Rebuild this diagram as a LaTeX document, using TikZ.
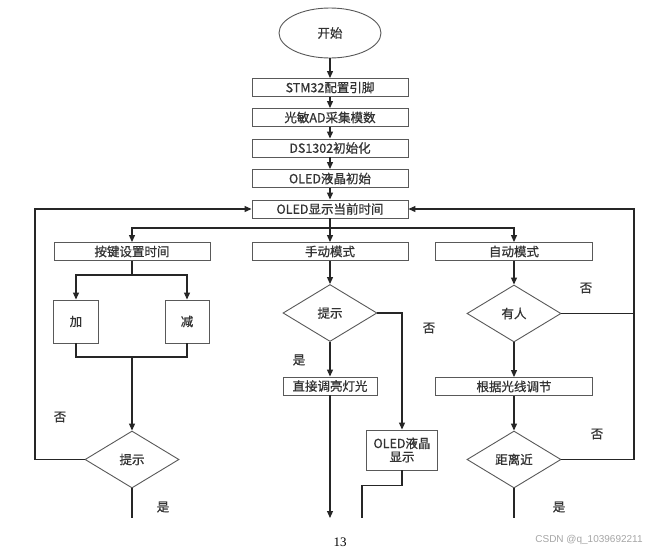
\documentclass[tikz,border=0pt]{standalone}
\usepackage{fontspec}
\newfontfamily\cjk[FakeBold=0.8]{Noto Sans CJK SC}
\newfontfamily\serifnum{Liberation Serif}
\newfontfamily\wmfont{Liberation Sans}
\usetikzlibrary{shapes.geometric,arrows.meta,calc}
\begin{document}
\begin{tikzpicture}[x=1pt,y=-1pt,
  line/.style={draw=black!85, line width=1.1pt},
  arr/.style={line, -{Triangle[length=7pt,width=6pt]}},
  txt/.style={font=\cjk\fontsize{12.5}{13.5}\selectfont, text=black!80},
  box/.style={txt, draw=black!65, line width=0.9pt, minimum height=18pt, inner sep=0pt, rectangle},
  dia/.style={txt, diamond, draw=black!65, line width=0.9pt, minimum width=94pt, minimum height=57pt, inner sep=0pt},
  lab/.style={txt}]
\useasboundingbox[fill=white] (0,0) rectangle (670,552);
% main column
\node[txt, ellipse, draw=black!65, line width=0.9pt, minimum width=102pt, minimum height=50pt, inner sep=0pt] (start) at (330,33) {开始};
\node[box, minimum width=156pt] (b1) at (330,87.5) {STM32配置引脚};
\node[box, minimum width=156pt] (b2) at (330,117.5) {光敏AD采集模数};
\node[box, minimum width=156pt] (b3) at (330,148) {DS1302初始化};
\node[box, minimum width=156pt] (b4) at (330,178.5) {OLED液晶初始};
\node[box, minimum width=156pt] (b5) at (330,209) {OLED显示当前时间};
% second row
\node[box, minimum width=156pt] (k) at (132,251.5) {按键设置时间};
\node[box, minimum width=156pt] (m) at (330,251.5) {手动模式};
\node[box, minimum width=157pt] (a) at (514,251.5) {自动模式};
% left column
\node[box, minimum width=45pt, minimum height=43pt] (jia) at (76,321.5) {加};
\node[box, minimum width=44pt, minimum height=43pt] (jian) at (187,321.5) {减};
\node[dia] (d1) at (132,459.5) {提示};
% middle column
\node[dia] (d2) at (330,313) {提示};
\node[box, minimum width=94pt] (zj) at (330,386) {直接调亮灯光};
\node[box, minimum width=71pt, minimum height=40pt, align=center] (od) at (402,450) {OLED液晶\\显示};
% right column
\node[dia] (d3) at (514,313.5) {有人};
\node[box, minimum width=157pt] (gj) at (514,386.5) {根据光线调节};
\node[dia] (d4) at (514,459.5) {距离近};
% coordinates
\coordinate (sp) at (330,228);
\coordinate (kp) at (132,275);
\coordinate (jm) at (132,357);
\coordinate (lx) at (35,209);
\coordinate (rx) at (634,209);
\coordinate (e1) at (132,518);
\coordinate (e2) at (330,518);
\coordinate (e3) at (362,518);
\coordinate (e4) at (514,518);
% connectors main
\draw[arr] (start) -- (b1);
\draw[arr] (b1) -- (b2);
\draw[arr] (b2) -- (b3);
\draw[arr] (b3) -- (b4);
\draw[arr] (b4) -- (b5);
\draw[arr] (b5) -- (m);
\draw[arr] (sp) -| (k.north);
\draw[arr] (sp) -| (a.north);
% left
\draw[line] (k.south) -- (kp);
\draw[arr] (kp) -| (jia.north);
\draw[arr] (kp) -| (jian.north);
\draw[line] (jia.south) |- (jm) -| (jian.south);
\draw[arr] (jm) -- (d1.north);
\draw[arr] (d1.west) -| (lx) -- (b5.west);
\draw[line] (d1.south) -- (e1);
\node[lab] (n1) at (60,417) {否};
\node[lab] (y1) at (163,507) {是};
% middle
\draw[arr] (m) -- (d2);
\draw[arr] (d2) -- (zj);
\draw[arr] (zj) -- (e2);
\draw[arr] (d2.east) -| (od.north);
\draw[line] (od.south) -- ++(0,15) -| (e3);
\node[lab] (y2) at (299,360) {是};
\node[lab] (n2) at (429,328) {否};
% right
\draw[arr] (a) -- (d3);
\draw[arr] (d3) -- (gj);
\draw[arr] (gj) -- (d4);
\draw[line] (d3.east) -- (d3.east -| rx);
\draw[arr] (d4.east) -| (rx) -- (b5.east);
\draw[line] (d4.south) -- (e4);
\node[lab] (n3) at (586,288) {否};
\node[lab] (n4) at (597,434) {否};
\node[lab] (y4) at (559,507) {是};
% footer
\node[font=\serifnum\fontsize{13}{14}\selectfont] (pg) at (340,542) {13};
\node[font=\wmfont\fontsize{10}{12}\selectfont, text=black!35] (wm) at (589,540) {CSDN @q\_1039692211};
\end{tikzpicture}
\end{document}
